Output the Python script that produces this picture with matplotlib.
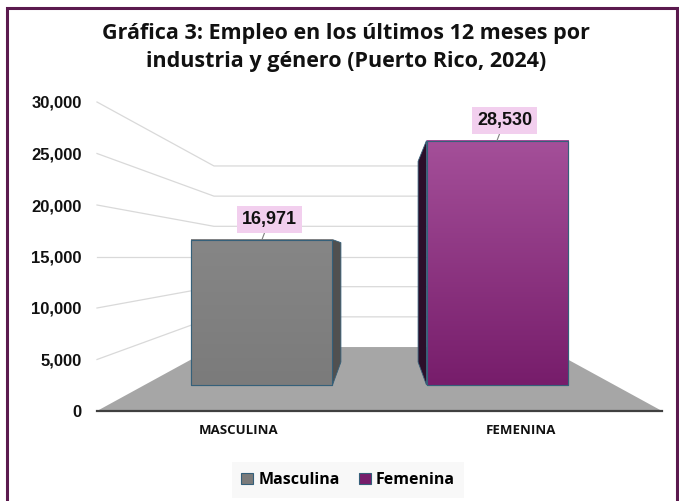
import numpy as np
import matplotlib
matplotlib.use('Agg')
import matplotlib.pyplot as plt
from matplotlib.patches import Polygon, Patch, Rectangle
from matplotlib.colors import LinearSegmentedColormap

# data
categories = ['MASCULINA', 'FEMENINA']
legend_names = ['Masculina', 'Femenina']
values = [16971, 28530]
yticks = [0, 5000, 10000, 15000, 20000, 25000, 30000]

# colours (top of gradient, bottom of gradient, side face)
face_top = ['#868686', '#a44f99']
face_bot = ['#7b7b7b', '#771d6b']
side_col = ['#505050', '#2c0e2a']
edge_col = '#35607a'

# fake 3d perspective: vanishing point + depth factors
VX, VY = 0.5, 15000
K_WALL = 0.586      # back wall
K_BAR_F = 0.832     # front of the bars
K_BAR_B = 0.683     # back of the bars
HALF_W = 0.3

TFONT = 'Open Sans'

def proj(x, y, k):
    return VX + (x - VX) * k, VY + (y - VY) * k

fig = plt.figure(figsize=(6.79, 5.01), dpi=100)
ax = fig.add_axes([97 / 679, 1 - 411 / 501, 565 / 679, 309 / 501])
ax.set_xlim(-0.5, 1.5)
ax.set_ylim(0, 30000)

# walls gridlines (left wall + back wall)
for v in yticks[1:]:
    bx0, by = proj(-0.5, v, K_WALL)
    bx1, _ = proj(1.5, v, K_WALL)
    ax.plot([-0.5, bx0, bx1], [v, by, by], color='#d9d9d9', lw=0.9, zorder=1,
            clip_on=False)

# floor
floor = [(-0.5, 0), (1.5, 0), proj(1.5, 0, K_WALL), proj(-0.5, 0, K_WALL)]
ax.add_patch(Polygon(floor, closed=True, facecolor='#a6a6a6', edgecolor='none',
                     zorder=2, clip_on=False))
ax.plot([-0.5, 1.5], [0, 0], color='#404040', lw=1.6, zorder=2.5, clip_on=False)

# bars
for i, v in enumerate(values):
    xs = HALF_W if i < VX else -HALF_W
    side = [proj(i + xs, 0, K_BAR_F), proj(i + xs, v, K_BAR_F),
            proj(i + xs, v, K_BAR_B), proj(i + xs, 0, K_BAR_B)]
    ax.add_patch(Polygon(side, closed=True, facecolor=side_col[i],
                         edgecolor=edge_col, lw=0.6, zorder=3, clip_on=False))

    cx, by = proj(i, 0, K_BAR_F)
    _, ty = proj(i, v, K_BAR_F)
    w = 2 * HALF_W * K_BAR_F
    bar = ax.bar(cx, ty - by, width=w, bottom=by, color=face_bot[i],
                 edgecolor=edge_col, lw=0.8, zorder=4, clip_on=False)
    cmap = LinearSegmentedColormap.from_list('g%d' % i, [face_bot[i], face_top[i]])
    grad = np.linspace(0, 1, 100).reshape(-1, 1)
    im = ax.imshow(grad, extent=[cx - w / 2, cx + w / 2, by, ty], origin='lower',
                   aspect='auto', cmap=cmap, zorder=4.1, clip_on=False)
    im.set_clip_path(bar[0])
    ax.bar(cx, ty - by, width=w, bottom=by, color='none', edgecolor=edge_col,
           lw=0.8, zorder=4.2, clip_on=False)

    ax.annotate(f'{v:,}', xy=(cx, ty), xytext=(5.5, 14.5), textcoords='offset points',
                ha='center', va='center', fontsize=13, fontweight='bold',
                family='Liberation Sans', color='#111111', zorder=6,
                bbox=dict(boxstyle='square,pad=0.28', fc='#f2cfee', ec='none'),
                arrowprops=dict(arrowstyle='-', color='#808080', lw=0.8,
                                shrinkA=0, shrinkB=0))

ax.set_xlim(-0.5, 1.5)
ax.set_ylim(0, 30000)

ax.set_yticks(yticks)
ax.set_yticklabels([f'{t:,}' for t in yticks], fontsize=12, fontweight='bold',
                   family='Liberation Sans', color='#111111')
ax.set_xticks(range(len(categories)))
ax.set_xticklabels(categories, fontsize=9.5, fontweight='bold', family=TFONT,
                   color='#111111')
ax.tick_params(axis='y', length=0, pad=11)
ax.tick_params(axis='x', length=0, pad=9)
for s in ax.spines.values():
    s.set_visible(False)
ax.set_facecolor('none')

fig.text(346 / 679, 1 - 47.5 / 501,
         'Gráfica 3: Empleo en los últimos 12 meses por\nindustria y género (Puerto Rico, 2024)',
         ha='center', va='center', fontsize=15.5, fontweight='bold', family=TFONT,
         color='#111111', linespacing=1.5)

handles = [Patch(facecolor=face_bot[i], edgecolor=edge_col, lw=0.8) for i in range(2)]
leg = fig.legend(handles, legend_names, loc='center', bbox_to_anchor=(348 / 679, 1 - 480 / 501),
                 ncol=2, frameon=True, handlelength=0.75, handleheight=0.75,
                 handletextpad=0.3, columnspacing=1.2, borderpad=0.3,
                 prop={'family': TFONT, 'weight': 'bold', 'size': 11.5})
leg.get_frame().set_facecolor('#f7f7f7')
leg.get_frame().set_edgecolor('none')
leg.get_frame().set_boxstyle('square')

# outer frame
fig.patches.append(Rectangle((7 / 679, -0.05), 670 / 679, 1.05 - 8 / 501,
                             transform=fig.transFigure, fill=False,
                             edgecolor='#5b1a4e', lw=2.2))

fig.savefig('out.png', dpi=100)
